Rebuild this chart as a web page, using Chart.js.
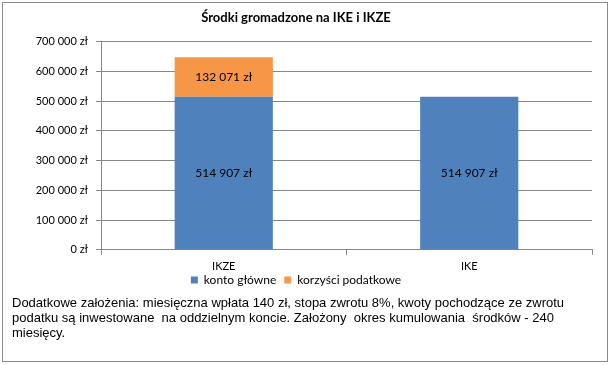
<!DOCTYPE html>
<html>
<head>
<meta charset="utf-8">
<script src="https://cdn.jsdelivr.net/npm/chart.js@4/dist/chart.umd.min.js"></script>
<style>
  html, body { margin: 0; padding: 0; background: #fff; }
  #frame { position: absolute; left: 2px; top: 2px; width: 606px; height: 360px; box-sizing: border-box; border: 1px solid #8a8a8a; }
  #c { position: absolute; left: 0; top: 0; }
  #note { position: absolute; left: 12px; top: 295px; width: 590px; font-family: "Liberation Sans", Arial, sans-serif; font-size: 13px; line-height: 15px; color: #000; white-space: pre; }
</style>
</head>
<body>
<div id="frame"></div>
<canvas id="c" width="610" height="312"></canvas>
<div id="note">Dodatkowe założenia: miesięczna wpłata 140 zł, stopa zwrotu 8%, kwoty pochodzące ze zwrotu
podatku są inwestowane  na oddzielnym koncie. Założony  okres kumulowania  środków - 240
miesięcy.</div>
<script>
const categories = ["IKZE", "IKE"];
const kontoGlowne = [514907, 514907];
const korzysciPodatkowe = [132071, null];
const seriesNames = ["konto główne", "korzyści podatkowe"];
const chartTitle = "Środki gromadzone na IKE i IKZE";

const fmt = v => String(Math.round(v)).replace(/\B(?=(\d{3})+(?!\d))/g, " ") + " zł";
const FONT = "Lato, 'Open Sans', sans-serif";

const labelPlugin = {
  id: "segLabels",
  afterLayout(chart) {
    // pull the legend closer to the category labels
    if (chart.legend) { chart.legend.top -= 12; chart.legend.bottom -= 12; }
  },
  afterDatasetsDraw(chart) {
    const ctx = chart.ctx;
    ctx.save();
    ctx.font = "12px " + FONT;
    ctx.fillStyle = "#000";
    ctx.textAlign = "center";
    ctx.textBaseline = "middle";
    chart.data.datasets.forEach((ds, di) => {
      const meta = chart.getDatasetMeta(di);
      meta.data.forEach((bar, i) => {
        const v = ds.data[i];
        if (v == null) return;
        const y = (bar.y + bar.base) / 2;
        ctx.fillText(fmt(v), bar.x, y);
      });
    });
    ctx.restore();
  }
};

new Chart(document.getElementById("c"), {
  type: "bar",
  data: {
    labels: categories,
    datasets: [
      { label: seriesNames[0], data: kontoGlowne, backgroundColor: "#4F81BD", barPercentage: 0.4, categoryPercentage: 1 },
      { label: seriesNames[1], data: korzysciPodatkowe, backgroundColor: "#F79646", barPercentage: 0.4, categoryPercentage: 1 }
    ]
  },
  options: {
    responsive: false,
    devicePixelRatio: 1,
    animation: false,
    layout: { padding: { left: 0, right: 18, top: 0, bottom: 4 } },
    plugins: {
      title: {
        display: true,
        text: chartTitle,
        color: "#000",
        font: { family: FONT, size: 13, weight: "bold", lineHeight: 1.2 },
        padding: { top: 10, bottom: 16 }
      },
      legend: {
        position: "bottom",
        labels: {
          color: "#000",
          font: { family: FONT, size: 12, lineHeight: 1.1 },
          boxWidth: 7, boxHeight: 7, padding: 8, useBorderRadius: false
        }
      },
      tooltip: { enabled: false }
    },
    scales: {
      x: {
        stacked: true,
        grid: { display: true, offset: true, drawOnChartArea: false, drawTicks: true, tickLength: 5, color: "#868686" },
        border: { color: "#868686" },
        ticks: { color: "#000", font: { family: FONT, size: 11 }, padding: 5 }
      },
      y: {
        stacked: true,
        min: 0, max: 700000,
        afterFit(s) { s.width = 101; },
        grid: { color: "#868686", drawTicks: true, tickLength: 5 },
        border: { color: "#868686" },
        ticks: { stepSize: 100000, color: "#000", font: { family: FONT, size: 11 }, padding: 8, callback: v => fmt(v) }
      }
    }
  },
  plugins: [labelPlugin]
});
</script>
</body>
</html>
